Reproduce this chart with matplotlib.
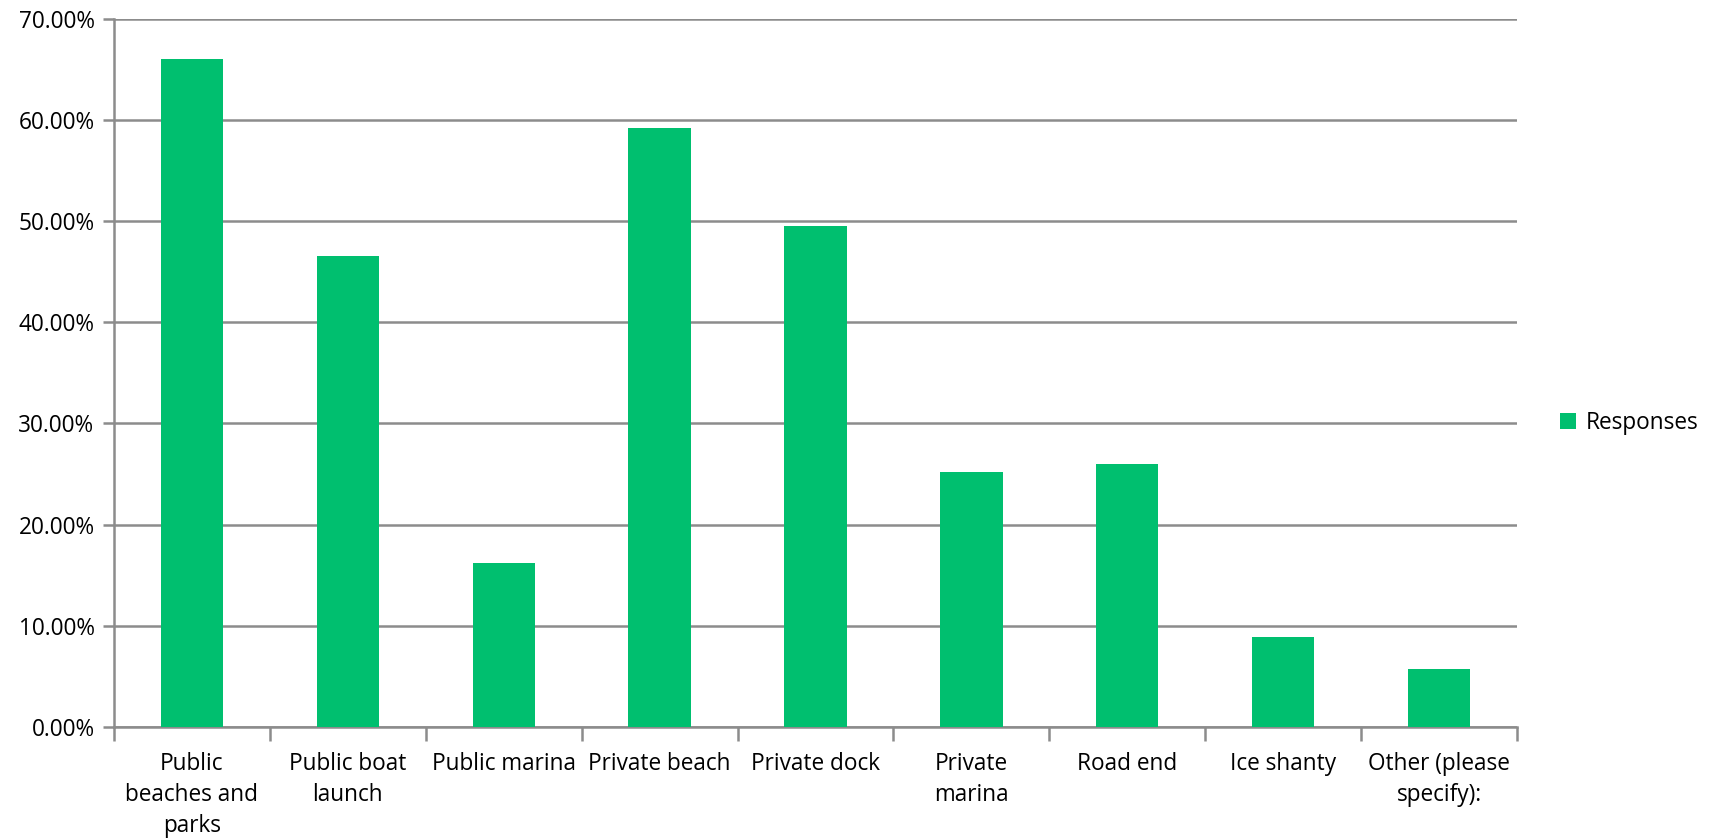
import matplotlib
matplotlib.use("Agg")
import matplotlib.pyplot as plt
import numpy as np
from matplotlib.ticker import FuncFormatter, FixedLocator

categories = ["Public\nbeaches and\nparks", "Public boat\nlaunch", "Public marina",
              "Private beach", "Private dock", "Private\nmarina", "Road end",
              "Ice shanty", "Other (please\nspecify):"]
responses = [66.0, 46.5, 16.2, 59.2, 49.5, 25.2, 26.0, 8.9, 5.7]
series_name = "Responses"
yticks = [0, 10, 20, 30, 40, 50, 60, 70]

plt.rcParams['font.family'] = ['Open Sans', 'DejaVu Sans']
green = "#00BF6F"
grid_c = "#8C8C8C"
fs = 16.3

fig = plt.figure(figsize=(17.09, 8.40), dpi=100)
L, R, T, B = 114, 1517, 18.5, 727
ax = fig.add_axes([L/1709, 1-B/840, (R-L)/1709, (B-T)/840])

x = np.arange(len(categories))
ax.bar(x, responses, width=0.4, color=green, label=series_name, zorder=3)

ax.set_xlim(-0.5, len(categories) - 0.5)
ax.set_ylim(0, 70)
ax.set_yticks(yticks)
ax.yaxis.set_major_formatter(FuncFormatter(lambda v, p: f"{v:.2f}%"))
ax.yaxis.grid(True, color=grid_c, linewidth=1.8, zorder=0)
ax.set_axisbelow(True)

ax.set_xticks(x)
ax.set_xticklabels(categories, fontsize=fs, linespacing=1.4, va='top')
ax.xaxis.set_minor_locator(FixedLocator(np.arange(-0.5, len(categories), 1.0)))
ax.tick_params(axis='x', which='major', length=0, pad=18)
ax.tick_params(axis='x', which='minor', length=10, width=1.8, color=grid_c)
ax.tick_params(axis='y', length=8, width=1.8, color=grid_c, labelsize=fs, pad=6)

for s in ['top', 'right']:
    ax.spines[s].set_visible(False)
for s in ['left', 'bottom']:
    ax.spines[s].set_color(grid_c)
    ax.spines[s].set_linewidth(1.8)

fig.legend(loc='center left', bbox_to_anchor=(1540/1709, 1-423/840), frameon=False,
           fontsize=fs, handlelength=0.7, handleheight=0.7, handletextpad=0.4)

fig.savefig("out.png", dpi=100, facecolor="white")
